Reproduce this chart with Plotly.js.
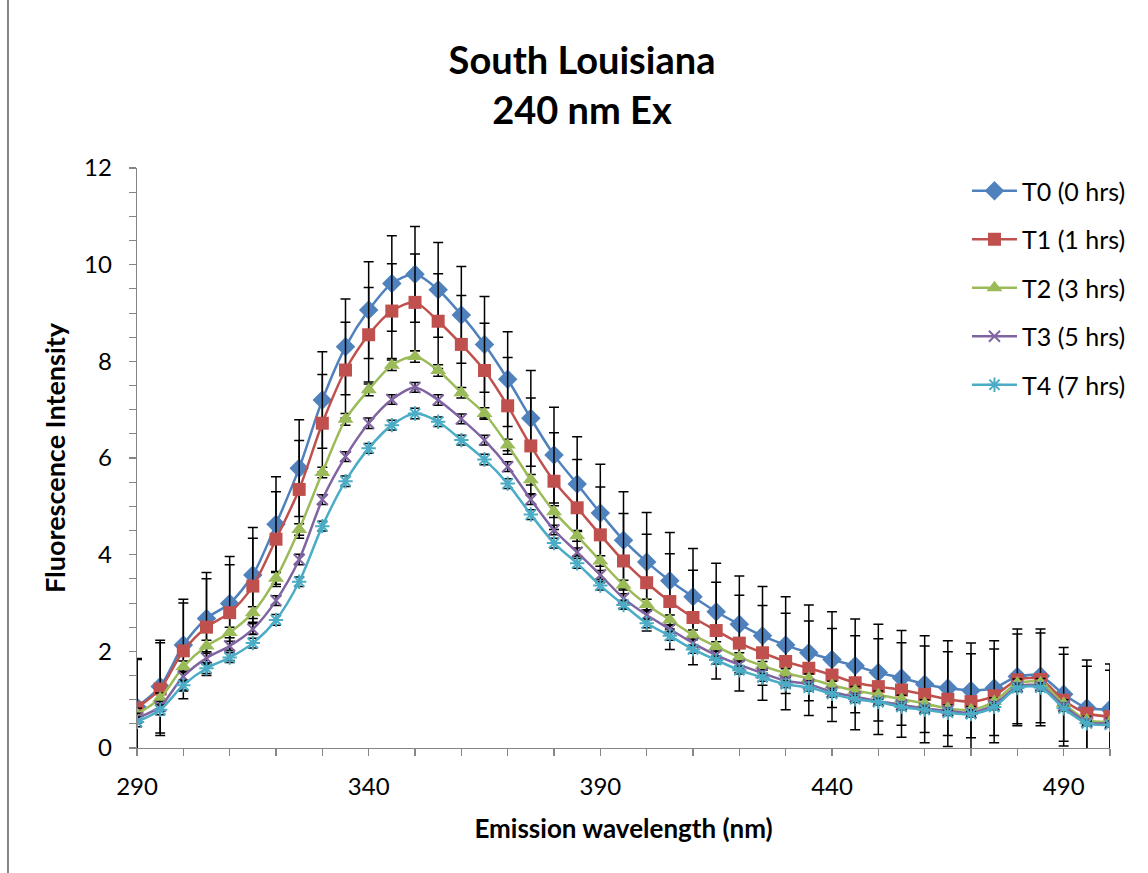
<!DOCTYPE html>
<html>
<head>
<meta charset="utf-8">
<script src="https://cdn.plot.ly/plotly-3.0.1.min.js"></script>
<style>html,body{margin:0;padding:0;background:#fff;}#chart{width:1148px;height:873px;}</style>
</head>
<body>
<div id="chart"></div>
<script>
const wavelength = [290,295,300,305,310,315,320,325,330,335,340,345,350,355,360,365,370,375,380,385,390,395,400,405,410,415,420,425,430,435,440,445,450,455,460,465,470,475,480,485,490,495,500];

const seriesNames = ["T0 (0 hrs)","T1 (1 hrs)","T2 (3 hrs)","T3 (5 hrs)","T4 (7 hrs)"];

const t0 = [0.85,1.27,2.13,2.68,2.99,3.58,4.63,5.79,7.20,8.30,9.06,9.61,9.80,9.48,8.96,8.35,7.63,6.82,6.06,5.46,4.86,4.30,3.85,3.46,3.13,2.82,2.56,2.32,2.13,1.97,1.83,1.70,1.56,1.45,1.32,1.24,1.19,1.24,1.48,1.49,1.11,0.83,0.80];
const t1 = [0.83,1.22,2.01,2.50,2.80,3.35,4.32,5.35,6.72,7.82,8.55,9.04,9.22,8.83,8.35,7.81,7.08,6.25,5.52,4.97,4.41,3.87,3.42,3.03,2.70,2.43,2.17,1.97,1.79,1.65,1.51,1.35,1.27,1.20,1.11,1.01,0.96,1.08,1.41,1.42,0.99,0.72,0.65];
const t2 = [0.70,1.03,1.68,2.11,2.39,2.80,3.51,4.52,5.70,6.80,7.41,7.92,8.10,7.81,7.35,6.92,6.27,5.55,4.89,4.39,3.87,3.37,2.97,2.65,2.34,2.10,1.88,1.70,1.55,1.44,1.30,1.19,1.10,1.01,0.92,0.82,0.79,0.96,1.34,1.35,0.92,0.58,0.54];
const t3 = [0.62,0.86,1.48,1.86,2.11,2.46,3.05,3.90,5.14,6.03,6.72,7.21,7.46,7.20,6.81,6.37,5.82,5.14,4.51,4.05,3.58,3.10,2.75,2.46,2.17,1.92,1.72,1.55,1.39,1.32,1.16,1.06,0.97,0.89,0.82,0.77,0.73,0.89,1.27,1.28,0.87,0.54,0.51];
const t4 = [0.54,0.79,1.30,1.65,1.87,2.17,2.65,3.44,4.59,5.52,6.20,6.68,6.92,6.75,6.37,5.97,5.47,4.83,4.24,3.82,3.36,2.96,2.58,2.32,2.04,1.82,1.61,1.46,1.32,1.25,1.12,1.01,0.95,0.85,0.79,0.73,0.70,0.85,1.24,1.25,0.82,0.51,0.48];

const t0Err = [1.00,0.96,0.95,0.95,0.97,0.98,0.98,1.00,1.00,0.99,1.00,0.99,0.99,0.98,1.00,0.99,0.98,0.99,0.99,0.98,1.01,1.00,1.02,1.00,1.00,1.00,1.00,1.02,1.00,0.99,0.99,0.97,1.00,0.98,1.00,0.98,0.98,0.98,0.98,0.97,0.97,0.99,0.94];
const t1Err = [1.00,0.96,0.99,1.00,0.99,0.99,0.98,1.01,1.01,0.99,0.98,0.98,1.00,0.98,1.01,0.98,1.00,0.99,1.00,1.00,0.99,0.98,1.00,0.99,0.98,1.00,0.99,0.98,1.00,0.98,0.96,0.97,0.99,0.98,1.00,0.98,0.99,0.97,0.95,0.96,0.95,0.97,0.96];
const t2Err = [0.12,0.11,0.12,0.12,0.11,0.12,0.12,0.12,0.11,0.12,0.12,0.11,0.12,0.12,0.11,0.12,0.12,0.11,0.12,0.11,0.11,0.10,0.11,0.10,0.10,0.10,0.09,0.09,0.09,0.09,0.08,0.08,0.08,0.08,0.08,0.07,0.07,0.08,0.09,0.09,0.08,0.07,0.07];
const t3Err = [0.10,0.10,0.11,0.10,0.10,0.11,0.10,0.11,0.10,0.10,0.11,0.10,0.10,0.11,0.10,0.10,0.10,0.10,0.10,0.09,0.09,0.09,0.09,0.08,0.08,0.08,0.08,0.07,0.07,0.07,0.07,0.07,0.06,0.06,0.06,0.06,0.06,0.06,0.07,0.07,0.06,0.05,0.05];
const t4Err = [0.10,0.10,0.10,0.11,0.10,0.10,0.11,0.10,0.10,0.11,0.10,0.10,0.11,0.10,0.10,0.11,0.10,0.10,0.10,0.10,0.09,0.09,0.09,0.09,0.08,0.08,0.08,0.08,0.07,0.07,0.07,0.07,0.06,0.06,0.06,0.06,0.06,0.06,0.07,0.07,0.06,0.05,0.05];

const xTickVals = [290,340,390,440,490];
const xTickText = ["290","340","390","440","490"];
const yTickVals = [0,2,4,6,8,10,12];
const yTickText = ["0","2","4","6","8","10","12"];

const FONT = "Lato, 'Liberation Sans', sans-serif";
const colors = ["#4F81BD","#C0504D","#9BBB59","#8064A2","#4BACC6"];
const ys = [t0,t1,t2,t3,t4];
const errs = [t0Err,t1Err,t2Err,t3Err,t4Err];
const markers = [
  {symbol:"diamond", size:15},
  {symbol:"square", size:13},
  {symbol:"triangle-up", size:14},
  {symbol:"x-thin-open", size:11, line:{width:2}},
  {symbol:"asterisk-open", size:12, line:{width:2}}
];

const traces = ys.map((y,i)=>{
  const m = Object.assign({color:colors[i]}, markers[i]);
  if (m.line) m.line = {width:m.line.width, color:colors[i]};
  return {
    type:"scatter", mode:"lines+markers",
    x: wavelength, y: y, name: seriesNames[i],
    legendgroup: "g"+i,
    line:{color:colors[i], width:2.5, shape:"spline", smoothing:0.8},
    marker: m,
    error_y:{type:"data", array:errs[i], visible:true, color:"#000000", thickness:1.5, width:5}
  };
});

const layout = {
  width:1148, height:873, autosize:false,
  margin:{l:137, r:38, t:168, b:125},
  paper_bgcolor:"#ffffff", plot_bgcolor:"#ffffff",
  font:{family:FONT, color:"#000000", size:24},
  showlegend:true,
  title:{
    text:"<b>South Louisiana</b><br><b>240 nm Ex</b>",
    font:{family:FONT, size:38, color:"#000000"},
    x:0.507, xref:"container", xanchor:"center",
    y:0.915, yref:"container", yanchor:"top"
  },
  xaxis:{
    range:[290,500], showgrid:false, zeroline:false,
    showline:true, linecolor:"#868686", linewidth:1.3,
    tickmode:"array", tickvals:xTickVals, ticktext:xTickText,
    ticks:"outside", ticklen:7, tickcolor:"#868686", tickwidth:1.3,
    minor:{dtick:10, tick0:290, ticks:"outside", ticklen:7, tickcolor:"#868686", tickwidth:1.3, showgrid:false},
    tickfont:{family:FONT, size:24, color:"#000000"},
    ticklabelstandoff:10,
    title:{text:"<b>Emission wavelength (nm)</b>", font:{family:FONT, size:26, color:"#000000"}, standoff:20}
  },
  yaxis:{
    range:[0,12], showgrid:false, zeroline:false,
    showline:true, linecolor:"#868686", linewidth:1.3,
    tickmode:"array", tickvals:yTickVals, ticktext:yTickText,
    ticks:"outside", ticklen:7, tickcolor:"#868686", tickwidth:1.3,
    minor:{dtick:0.5, ticks:"outside", ticklen:7, tickcolor:"#868686", tickwidth:1, showgrid:false},
    tickfont:{family:FONT, size:24, color:"#000000"},
    ticklabelstandoff:12,
    title:{text:"<b>Fluorescence Intensity</b>", font:{family:FONT, size:27, color:"#000000"}, standoff:10}
  },
  legend:{
    x:0.853, y:1.0, xanchor:"left", yanchor:"top",
    bgcolor:"rgba(0,0,0,0)", borderwidth:0,
    font:{family:FONT, size:25, color:"#000000"},
    traceorder:"grouped", tracegroupgap:13, itemwidth:45
  },
  shapes:[
    {type:"line", xref:"paper", yref:"paper", x0:-0.1326, x1:-0.1326, y0:-0.3, y1:1.4,
     line:{color:"#868686", width:2}}
  ]
};

Plotly.newPlot("chart", traces, layout, {displayModeBar:false, staticPlot:true});
</script>
</body>
</html>
